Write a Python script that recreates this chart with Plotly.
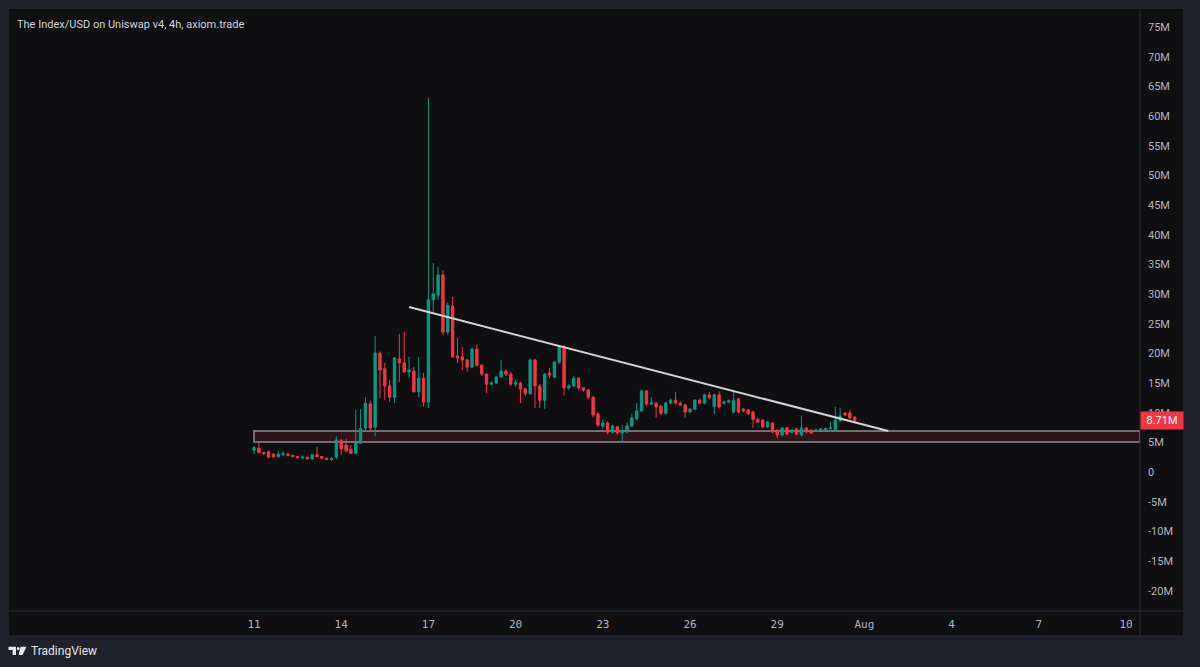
import pandas as pd
import plotly.graph_objects as go

# ---------------- data (values in millions USD) ----------------
start_time = "2025-07-11 00:00"
bar_hours = 4

opens = [3.7, 4.0, 3.3, 3.4, 3.0, 2.6, 2.9, 3.0, 2.8, 2.6,
         2.4, 2.5, 2.2, 2.9, 2.6, 2.3, 2.1, 2.5, 5.3, 4.55,
         3.8, 3.15, 4.85, 7.4, 11.5, 7.55, 20.0, 17.4, 14.5, 12.6,
         19.05, 18.4, 16.85, 17.0, 13.5, 15.8, 11.8, 29.0, 29.8, 33.2,
         23.6, 28.0, 19.55, 19.4, 18.9, 17.7, 20.7, 18.0, 16.5, 14.8,
         15.0, 16.0, 17.0, 16.5, 14.8, 15.0, 14.0, 13.2, 18.9, 14.5,
         12.1, 16.7, 16.0, 18.5, 21.1, 14.2, 14.5, 15.8, 14.2, 13.8,
         12.6, 9.8, 7.75, 8.25, 6.7, 7.6, 6.6, 6.75, 7.75, 8.95,
         10.3, 13.65, 11.46, 11.6, 11.1, 9.9, 11.63, 12.1, 11.6, 11.3,
         10.1, 10.6, 12.1, 11.6, 13.0, 11.0, 13.0, 11.6, 11.8, 10.1,
         12.3, 10.6, 10.45, 10.1, 8.9, 8.76, 7.6, 8.26, 7.08, 6.24,
         7.42, 6.7, 7.25, 6.24, 7.42, 7.08, 6.9, 7.08, 7.1, 7.25,
         7.08, 8.6, 9.95, 9.95, 9.27]
highs = [4.4, 4.9, 3.35, 3.6, 3.2, 3.5, 3.6, 3.3, 2.9, 2.7,
         2.8, 2.6, 3.0, 4.2, 2.7, 2.4, 2.5, 6.0, 5.6, 5.6,
         4.55, 10.45, 10.6, 12.6, 12.0, 22.9, 20.3, 18.4, 15.5, 19.4,
         23.3, 23.6, 19.4, 17.7, 19.4, 16.7, 63.0, 35.2, 34.6, 34.0,
         28.5, 29.5, 22.6, 21.1, 19.0, 20.9, 21.4, 18.2, 16.7, 15.3,
         16.2, 18.9, 17.3, 16.9, 15.5, 15.2, 14.2, 19.1, 19.0, 14.8,
         16.7, 17.5, 18.7, 21.4, 21.4, 14.8, 16.2, 16.0, 14.3, 14.0,
         12.8, 10.0, 8.9, 8.5, 8.0, 7.8, 7.9, 8.3, 9.8, 11.6,
         13.9, 13.8, 12.6, 11.8, 11.3, 11.8, 12.4, 13.5, 11.9, 11.5,
         10.8, 12.3, 12.4, 13.2, 13.5, 13.2, 13.6, 12.0, 12.2, 13.5,
         12.5, 10.8, 10.6, 10.3, 9.1, 8.9, 8.6, 8.4, 7.2, 7.6,
         7.6, 7.2, 7.4, 9.5, 7.6, 7.2, 7.3, 7.4, 7.5, 8.4,
         11.0, 10.8, 10.1, 10.5, 9.4]
lows = [3.0, 3.2, 2.8, 2.3, 2.3, 2.4, 2.7, 2.6, 2.5, 2.3,
        2.2, 2.1, 2.1, 2.5, 2.2, 2.0, 1.9, 2.2, 2.9, 3.2,
        3.0, 3.0, 4.7, 7.0, 7.0, 6.0, 12.5, 12.1, 11.8, 11.6,
        15.2, 16.7, 15.8, 13.5, 12.6, 11.0, 10.8, 26.9, 29.0, 23.1,
        23.1, 19.2, 18.4, 17.2, 16.9, 17.5, 17.8, 16.2, 13.3, 14.6,
        14.8, 15.8, 16.2, 14.5, 14.3, 11.6, 12.8, 13.0, 10.8, 10.8,
        10.6, 15.8, 15.8, 18.2, 12.9, 13.8, 14.3, 13.8, 13.6, 12.3,
        9.2, 7.5, 7.2, 6.3, 6.5, 6.3, 5.0, 6.5, 7.5, 8.7,
        10.1, 11.1, 11.2, 9.2, 9.6, 9.7, 11.4, 11.4, 11.1, 9.1,
        9.9, 10.4, 11.4, 11.4, 12.2, 9.8, 10.7, 11.4, 11.6, 9.9,
        9.9, 10.1, 9.6, 7.4, 8.2, 7.4, 7.4, 6.5, 5.7, 6.0,
        6.2, 6.5, 6.2, 6.0, 6.5, 6.4, 6.8, 7.0, 7.0, 7.2,
        6.9, 8.4, 9.4, 8.9, 8.5]
closes = [4.1, 3.25, 3.15, 2.5, 2.6, 3.0, 3.1, 2.8, 2.6, 2.4,
          2.5, 2.2, 2.9, 2.6, 2.3, 2.1, 2.3, 5.4, 3.9, 3.6,
          3.15, 4.85, 7.35, 11.6, 7.4, 20.06, 17.2, 14.5, 12.6, 19.2,
          18.4, 16.9, 17.2, 13.5, 15.8, 11.8, 29.0, 30.0, 33.2, 23.6,
          28.1, 19.4, 19.2, 18.9, 17.7, 20.7, 18.0, 16.5, 14.8, 15.0,
          16.0, 17.0, 16.5, 14.8, 15.1, 14.0, 13.2, 18.9, 14.5, 12.1,
          16.5, 16.3, 18.5, 21.1, 14.2, 14.5, 15.8, 14.2, 13.8, 12.6,
          9.6, 7.9, 8.25, 6.7, 7.75, 6.6, 6.9, 7.75, 9.1, 10.3,
          13.65, 11.46, 11.63, 10.96, 9.9, 11.63, 12.1, 11.6, 11.3, 10.1,
          10.6, 12.1, 11.6, 13.0, 12.5, 13.0, 10.96, 11.8, 12.0, 12.1,
          10.1, 10.3, 9.8, 8.9, 8.4, 7.6, 8.4, 6.74, 6.24, 7.42,
          6.4, 7.0, 6.4, 7.42, 6.74, 6.57, 7.08, 7.25, 7.3, 7.42,
          8.76, 9.45, 9.6, 9.1, 8.71]

last_price = 8.71
last_price_label = "8.71M"

zone_start = "2025-07-11 00:00"
zone_end = "2025-08-10 11:30"
zone_low = 5.05
zone_high = 6.9

trend_dates = ["2025-07-16 08:00", "2025-08-01 19:40"]
trend_values = [27.8, 6.9]

y_tick_values = [-20, -15, -10, -5, 0, 5, 10, 15, 20, 25, 30, 35, 40, 45, 50, 55, 60, 65, 70, 75]
y_tick_labels = ["-20M", "-15M", "-10M", "-5M", "0", "5M", "10M", "15M", "20M", "25M",
                 "30M", "35M", "40M", "45M", "50M", "55M", "60M", "65M", "70M", "75M"]
x_tick_dates = ["2025-07-11", "2025-07-14", "2025-07-17", "2025-07-20", "2025-07-23",
                "2025-07-26", "2025-07-29", "2025-08-01", "2025-08-04", "2025-08-07", "2025-08-10"]
x_tick_labels = ["11", "14", "17", "20", "23", "26", "29", "Aug", "4", "7", "10"]

title_text = "The Index/USD on Uniswap v4, 4h, axiom.trade"
brand_text = "TradingView"

# ---------------- figure ----------------
times = pd.date_range(start_time, periods=len(opens), freq=f"{bar_hours}h")

UP = "#089981"
DOWN = "#f23645"
PANEL = "#0f0f12"
OUTER = "#1e212b"
SEP = "#2a2c33"
TXT = "#b2b5be"
FONT = "Roboto, Inter, Liberation Sans, sans-serif"

W, H = 1200, 667
L, R, T, B = 9, 60, 9, 56
pw, ph = W - L - R, H - T - B


def px_x(x):
    return (x - L) / pw


def px_y(y):
    return (H - B - y) / ph


fig = go.Figure()

fig.add_trace(go.Candlestick(
    x=times, open=opens, high=highs, low=lows, close=closes,
    increasing=dict(line=dict(color=UP, width=1), fillcolor=UP),
    decreasing=dict(line=dict(color=DOWN, width=1), fillcolor=DOWN),
    whiskerwidth=0, showlegend=False,
))

fig.add_trace(go.Scatter(
    x=trend_dates, y=trend_values, mode="lines",
    line=dict(color="#d4d4d8", width=2), showlegend=False, hoverinfo="skip",
))

shapes = [
    # panel
    dict(type="rect", xref="paper", yref="paper", x0=0, x1=px_x(1183), y0=px_y(635), y1=1,
         fillcolor=PANEL, line=dict(width=0), layer="below"),
    # zone
    dict(type="rect", xref="x", yref="y", x0=zone_start, x1=zone_end, y0=zone_low, y1=zone_high,
         fillcolor="#2c141a", line=dict(color="#8e8e93", width=1.5), layer="below"),
    # separators
    dict(type="line", xref="paper", yref="paper", x0=1, x1=1, y0=px_y(635), y1=1,
         line=dict(color=SEP, width=1)),
    dict(type="line", xref="paper", yref="paper", x0=0, x1=px_x(1183), y0=0, y1=0,
         line=dict(color=SEP, width=1)),
    # TradingView logo
    dict(type="path", xref="paper", yref="paper",
         path=f"M {px_x(8.5)},{px_y(646.7)} L {px_x(16)},{px_y(646.7)} L {px_x(16)},{px_y(655)} "
              f"L {px_x(12.6)},{px_y(655)} L {px_x(12.6)},{px_y(650)} L {px_x(8.5)},{px_y(650)} Z",
         fillcolor="#e6e6e9", line=dict(width=0)),
    dict(type="circle", xref="paper", yref="paper", x0=px_x(16.8), x1=px_x(19.6),
         y0=px_y(650.2), y1=px_y(647), fillcolor="#e6e6e9", line=dict(width=0)),
    dict(type="path", xref="paper", yref="paper",
         path=f"M {px_x(20.5)},{px_y(646.7)} L {px_x(26.5)},{px_y(646.7)} L {px_x(22.5)},{px_y(655)} "
              f"L {px_x(18.6)},{px_y(655)} Z",
         fillcolor="#e6e6e9", line=dict(width=0)),
]

annotations = [
    dict(text=title_text, xref="paper", yref="paper", x=px_x(15), y=px_y(24),
         xanchor="left", yanchor="middle", showarrow=False,
         font=dict(family=FONT, size=11, color="#d1d4dc")),
    dict(text=brand_text, xref="paper", yref="paper", x=px_x(28.5), y=px_y(651),
         xanchor="left", yanchor="middle", showarrow=False,
         font=dict(family=FONT, size=12, color="#e6e6e9")),
    dict(text=last_price_label, xref="paper", yref="y", x=1.0, y=last_price,
         xanchor="left", yanchor="middle", showarrow=False,
         bgcolor=DOWN, borderpad=2, width=38, align="center",
         font=dict(family=FONT, size=11, color="#ffffff")),
]

fig.update_layout(
    width=W, height=H,
    margin=dict(l=L, r=R, t=T, b=B),
    paper_bgcolor=OUTER, plot_bgcolor=PANEL,
    shapes=shapes, annotations=annotations,
    showlegend=False, hovermode=False,
    xaxis=dict(
        type="date", range=["2025-07-02 13:42", "2025-08-10 11:32"],
        rangeslider=dict(visible=False),
        showgrid=False, zeroline=False, showline=False,
        tickvals=x_tick_dates, ticktext=x_tick_labels, ticks="",
        tickfont=dict(family="DejaVu Sans Mono, monospace", size=11, color=TXT),
        ticklabelstandoff=5,
    ),
    yaxis=dict(
        side="right", range=[-23.43, 78.04],
        showgrid=False, zeroline=False, showline=False,
        tickvals=y_tick_values, ticktext=y_tick_labels, ticks="",
        tickfont=dict(family=FONT, size=11, color=TXT),
        ticklabelstandoff=7,
    ),
)

fig.write_html(
    "out.html",
    config={"displayModeBar": False},
    post_script="document.body.style.margin='0';document.body.style.background='#1e212b';",
)
